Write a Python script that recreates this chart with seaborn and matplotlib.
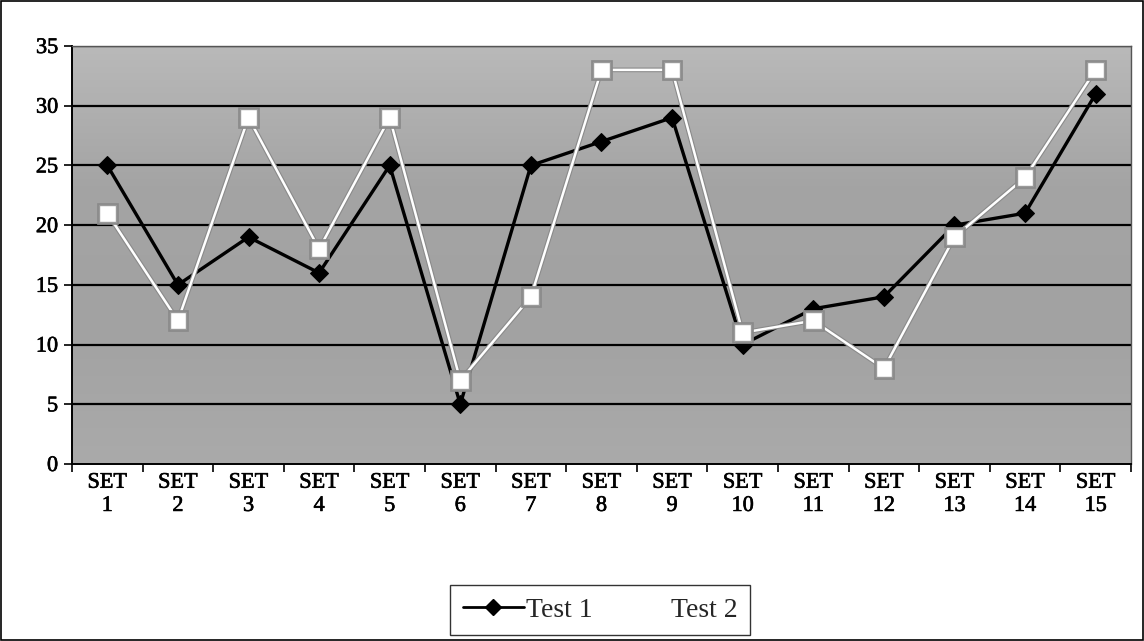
import matplotlib
matplotlib.use("Agg")
import matplotlib.pyplot as plt
import matplotlib.patheffects as pe
from matplotlib.ticker import FixedLocator, NullFormatter
from matplotlib.colors import LinearSegmentedColormap
import seaborn as sns
import pandas as pd
import numpy as np

categories = [f"SET\n{i}" for i in range(1, 16)]
test1 = [25, 15, 19, 16, 25, 5, 25, 27, 29, 10, 13, 14, 20, 21, 31]
test2 = [21, 12, 29, 18, 29, 7, 14, 33, 33, 11, 12, 8, 19, 24, 33]
y_ticks = [0, 5, 10, 15, 20, 25, 30, 35]

sns.set_theme(style="white")
plt.rcParams['font.family'] = ['Liberation Serif', 'DejaVu Serif']

fig = plt.figure(figsize=(11.44, 6.41), dpi=100)
ax = fig.add_axes([72/1144, 1 - 464/641, (1131-72)/1144, (464-46)/641])
ax.set_facecolor('#a6a6a6')

# soft vertical shading of the plot area (lighter at top)
shade = np.linspace(0, 1, 256).reshape(-1, 1)
cmap = LinearSegmentedColormap.from_list("bg", ["#b9b9b9", "#a4a4a4", "#a2a2a2", "#aaaaaa"])
ax.imshow(shade, aspect='auto', cmap=cmap, extent=[0, 1, 0, 1], origin='upper',
          transform=ax.transAxes, zorder=0)

pos = np.arange(len(categories))
df = pd.DataFrame({"pos": pos, "Test 1": test1, "Test 2": test2})

for y in y_ticks[1:]:
    ax.axhline(y, color='black', lw=1.6, zorder=1)

sns.lineplot(data=df, x="pos", y="Test 1", ax=ax, color='black', lw=2.4,
             marker='D', markersize=9, markerfacecolor='black',
             markeredgecolor='black', zorder=3, label="Test 1", legend=False)
sns.lineplot(data=df, x="pos", y="Test 2", ax=ax, color='white', lw=1.8,
             marker='s', markersize=12, markerfacecolor='white',
             markeredgecolor='#9a9a9a', markeredgewidth=1.0, zorder=4,
             label="Test 2", legend=False,
             path_effects=[pe.Stroke(linewidth=3.4, foreground='#8a8a8a'), pe.Normal()])

ax.set_xlim(-0.5, len(categories) - 0.5)
ax.set_ylim(0, 35)
ax.set_yticks(y_ticks)
ax.set_yticklabels([str(v) for v in y_ticks], fontsize=16, color='black')
ax.set_xticks(pos)
ax.set_xticklabels(categories, fontsize=16, linespacing=1.3, color='black')
ink = [pe.withStroke(linewidth=0.45, foreground='black')]
for t in ax.get_xticklabels() + ax.get_yticklabels():
    t.set_path_effects(ink)
ax.tick_params(axis='x', which='major', length=0, pad=7)
ax.xaxis.set_minor_locator(FixedLocator(np.arange(-0.5, len(categories), 1.0)))
ax.xaxis.set_minor_formatter(NullFormatter())
ax.tick_params(axis='x', which='minor', length=6, width=1.2, color='black', bottom=True)
ax.tick_params(axis='y', which='major', length=6, width=1.2, color='black', left=True, pad=4)
ax.set_xlabel("")
ax.set_ylabel("")

for side in ['left', 'bottom']:
    ax.spines[side].set_color('black')
    ax.spines[side].set_linewidth(1.4)
for side in ['top', 'right']:
    ax.spines[side].set_color('#555555')
    ax.spines[side].set_linewidth(1.0)

h1 = plt.Line2D([], [], color='black', lw=2, marker='D', markersize=8)
h2 = plt.Line2D([], [], color='white', lw=2, marker='s', markersize=10,
                markerfacecolor='white', markeredgecolor='white')
leg = fig.legend([h1, h2], ["Test 1", "Test 2"], loc='center',
                 bbox_to_anchor=(600/1144, 1 - 610/641), ncol=2, fontsize=20,
                 frameon=True, fancybox=False, shadow=False, handlelength=2.2,
                 handletextpad=0.1, columnspacing=0.5, borderpad=0.45,
                 borderaxespad=0)
leg.get_frame().set_edgecolor('black')
leg.get_frame().set_linewidth(1.0)

fig.patches.append(plt.Rectangle((0.001, 0.001), 0.998, 0.997, transform=fig.transFigure,
                                 fill=False, edgecolor='black', lw=1.2))

fig.savefig("out.png", dpi=100, facecolor='white')
